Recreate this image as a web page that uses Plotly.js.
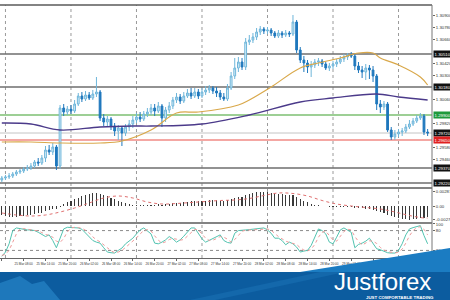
<!DOCTYPE html>
<html><head><meta charset="utf-8">
<script src="https://cdn.plot.ly/plotly-3.0.1.min.js"></script>
<style>html,body{margin:0;padding:0;background:#fff;overflow:hidden}#chart{width:450px;height:300px}</style>
</head><body><div id="chart"></div>
<script>
// ---- price data (H1 candles) ----
const opens = [1.2925,1.2927,1.2928,1.2929,1.2931,1.2933,1.2934,1.2936,1.2937,1.2939,
1.2943,1.2942,1.2947,1.2955,1.2953,1.2958,1.2939,1.2997,1.2993,1.2996,
1.2994,1.3001,1.3009,1.3006,1.3010,1.3007,1.3011,1.3013,1.2987,1.2983,
1.2986,1.2979,1.2974,1.2977,1.2972,1.2978,1.2981,1.2985,1.2988,1.2986,
1.2991,1.2993,1.2997,1.2994,1.2999,1.2987,1.2995,1.2999,1.3005,1.3008,
1.3004,1.3009,1.3012,1.3009,1.3013,1.3009,1.3013,1.3015,1.3017,1.3014,
1.3012,1.3008,1.3006,1.3017,1.3029,1.3037,1.3043,1.3038,1.3063,1.3065,
1.3068,1.3073,1.3076,1.3074,1.3075,1.3072,1.3069,1.3072,1.3070,1.3072,
1.3071,1.3083,1.3055,1.3045,1.3042,1.3038,1.3040,1.3043,1.3044,1.3041,
1.3037,1.3039,1.3041,1.3043,1.3046,1.3048,1.3050,1.3049,1.3039,1.3035,
1.3033,1.3037,1.3035,1.3029,1.3001,1.2998,1.3001,1.2975,1.2968,1.2971,
1.2973,1.2974,1.2978,1.2981,1.2984,1.2987,1.2989,1.2973];
const highs = [1.2929,1.2930,1.2932,1.2933,1.2935,1.2936,1.2938,1.2940,1.2942,1.2945,
1.2947,1.2950,1.2959,1.2960,1.2962,1.2960,1.3000,1.3001,1.2999,1.3000,
1.3005,1.3012,1.3013,1.3014,1.3013,1.3015,1.3028,1.3015,1.2991,1.2989,
1.2988,1.2982,1.2980,1.2979,1.2981,1.2985,1.2989,1.2992,1.2993,1.2994,
1.2997,1.3001,1.3001,1.3003,1.3001,1.2998,1.3003,1.3008,1.3012,1.3011,
1.3013,1.3016,1.3017,1.3017,1.3016,1.3017,1.3019,1.3020,1.3019,1.3018,
1.3015,1.3012,1.3021,1.3033,1.3047,1.3048,1.3047,1.3067,1.3070,1.3072,
1.3077,1.3079,1.3078,1.3078,1.3077,1.3074,1.3075,1.3074,1.3075,1.3074,
1.3090,1.3085,1.3058,1.3049,1.3045,1.3044,1.3046,1.3047,1.3046,1.3043,
1.3042,1.3044,1.3046,1.3049,1.3051,1.3052,1.3053,1.3051,1.3043,1.3039,
1.3041,1.3040,1.3039,1.3031,1.3005,1.3004,1.3003,1.2978,1.2975,1.2976,
1.2977,1.2981,1.2985,1.2987,1.2990,1.2992,1.2991,1.2976];
const lows = [1.2923,1.2925,1.2926,1.2927,1.2929,1.2931,1.2932,1.2934,1.2935,1.2937,
1.2939,1.2940,1.2943,1.2950,1.2950,1.2935,1.2936,1.2989,1.2990,1.2991,
1.2992,1.2999,1.3003,1.3004,1.3005,1.3005,1.3008,1.2984,1.2979,1.2978,
1.2975,1.2969,1.2965,1.2959,1.2969,1.2974,1.2977,1.2982,1.2983,1.2984,
1.2988,1.2990,1.2989,1.2992,1.2978,1.2983,1.2992,1.2996,1.3002,1.3001,
1.3002,1.3007,1.3006,1.3007,1.3006,1.3007,1.3010,1.3012,1.3011,1.3008,
1.3005,1.3004,1.3004,1.3015,1.3026,1.3033,1.3035,1.3035,1.3060,1.3062,
1.3065,1.3070,1.3071,1.3071,1.3069,1.3067,1.3067,1.3067,1.3068,1.3068,
1.3069,1.3052,1.3042,1.3033,1.3032,1.3028,1.3037,1.3039,1.3038,1.3035,
1.3034,1.3036,1.3038,1.3041,1.3043,1.3045,1.3047,1.3035,1.3032,1.3027,
1.3025,1.3026,1.3023,1.2995,1.2992,1.2995,1.2973,1.2965,1.2965,1.2968,
1.2969,1.2972,1.2976,1.2979,1.2982,1.2985,1.2970,1.2969];
const closes = [1.2927,1.2928,1.2929,1.2931,1.2933,1.2934,1.2936,1.2937,1.2939,1.2943,
1.2942,1.2947,1.2955,1.2953,1.2958,1.2939,1.2997,1.2993,1.2996,1.2994,
1.3001,1.3009,1.3006,1.3010,1.3007,1.3011,1.3013,1.2987,1.2983,1.2986,
1.2979,1.2974,1.2977,1.2972,1.2978,1.2981,1.2985,1.2988,1.2986,1.2991,
1.2993,1.2997,1.2994,1.2999,1.2987,1.2995,1.2999,1.3005,1.3008,1.3004,
1.3009,1.3012,1.3009,1.3013,1.3009,1.3013,1.3015,1.3017,1.3014,1.3012,
1.3008,1.3006,1.3017,1.3029,1.3037,1.3043,1.3038,1.3063,1.3065,1.3068,
1.3073,1.3076,1.3074,1.3075,1.3072,1.3069,1.3072,1.3070,1.3072,1.3071,
1.3083,1.3055,1.3045,1.3042,1.3038,1.3040,1.3043,1.3044,1.3041,1.3037,
1.3039,1.3041,1.3043,1.3046,1.3048,1.3050,1.3049,1.3039,1.3035,1.3033,
1.3037,1.3035,1.3029,1.3001,1.2998,1.3001,1.2975,1.2968,1.2971,1.2973,
1.2974,1.2978,1.2981,1.2984,1.2987,1.2989,1.2973,1.2972];

// ---- moving averages (read at sample bars) ----
const emaIdx  = [0, 8, 16, 27, 33, 41, 48, 54, 65, 68, 74, 82, 87, 93, 98, 102, 104, 109, 115, 117];
const emaVals = [1.2963,1.2963,1.2962,1.2962,1.2964,1.2975,1.2992,1.2993,1.3000,1.3005,1.3018,1.3037,1.3042,1.3047,1.3052,1.3052,1.3047,1.3040,1.3028,1.3020];
const smaIdx  = [0, 8, 16, 27, 36, 41, 55, 68, 82, 91, 103, 109, 117];
const smaVals = [1.2982,1.2981,1.2975,1.2978,1.2979,1.2979,1.2981,1.2990,1.3003,1.3007,1.3011,1.3008,1.3005];

// ---- MACD ----
const macdHist = [-0.0018,-0.0020,-0.0022,-0.0022,-0.0022,-0.0020,-0.0020,-0.0018,-0.0018,-0.0016,
-0.0014,-0.0014,-0.0010,-0.0008,-0.0006,-0.0006,-0.0002,0.0004,0.0008,0.0010,
0.0014,0.0016,0.0020,0.0022,0.0024,0.0026,0.0026,0.0024,0.0022,0.0020,
0.0016,0.0014,0.0010,0.0008,0.0006,0.0004,0.0003,0.0002,0.0002,0.0002,
0.0002,0.0003,0.0003,0.0004,0.0003,0.0004,0.0005,0.0006,0.0007,0.0007,
0.0008,0.0009,0.0010,0.0010,0.0010,0.0011,0.0011,0.0012,0.0012,0.0012,
0.0011,0.0011,0.0012,0.0014,0.0016,0.0018,0.0018,0.0022,0.0024,0.0026,
0.0028,0.0028,0.0028,0.0028,0.0027,0.0026,0.0025,0.0024,0.0023,0.0022,
0.0022,0.0018,0.0014,0.0010,0.0008,0.0004,0.0003,0.0002,0.0001,0.0000,
-0.0001,-0.0002,-0.0002,-0.0002,-0.0002,-0.0002,-0.0002,-0.0003,-0.0004,-0.0004,
-0.0005,-0.0006,-0.0007,-0.0010,-0.0012,-0.0014,-0.0018,-0.0020,-0.0022,-0.0024,
-0.0026,-0.0026,-0.0028,-0.0026,-0.0026,-0.0024,-0.0024,-0.0022];
const sigIdx  = [0,4,8,12,16,20,24,28,32,36,40,44,48,52,56,60,64,68,72,76,80,84,88,92,96,100,104,108,112,116,117];
const sigVals = [-0.0014,-0.0018,-0.0020,-0.0018,-0.0012,-0.0004,0.0006,0.0016,0.0020,0.0016,0.0008,0.0004,0.0005,0.0007,0.0009,0.0011,0.0012,0.0015,0.0021,0.0026,0.0025,0.0020,0.0011,0.0004,0.0000,-0.0003,-0.0006,-0.0012,-0.0019,-0.0024,-0.0024];

// ---- Stochastic ----
const stochK = [2,15,40,80,88,86,82,82,82,80,75,68,62,67,50,28,55,85,90,90,
89,88,84,72,62,50,45,42,28,15,13,12,20,27,40,48,57,70,82,88,
80,70,42,40,45,52,62,55,45,52,63,75,88,88,70,55,45,50,57,62,
67,50,44,42,72,80,82,82,83,84,85,86,88,82,72,57,57,50,37,45,
40,30,15,18,20,35,60,85,80,70,45,40,60,82,88,82,75,28,38,42,
48,57,40,25,22,17,13,12,12,20,40,67,85,89,92,95,65,40];
const stochD = [5,8,20,45,70,85,86,84,82,81,79,74,68,66,60,48,44,56,76,88,
90,89,87,81,73,61,52,46,38,28,19,13,15,20,29,38,48,58,70,80,
83,79,64,51,42,46,53,56,54,51,53,63,75,84,82,71,57,50,51,56,
62,60,54,45,53,65,78,81,82,83,84,85,86,85,81,70,62,55,48,44,
41,38,28,21,18,24,38,60,75,78,65,52,48,61,77,84,82,62,47,36,
43,49,48,41,29,21,17,14,12,15,24,42,64,80,89,92,84,67];

// ---- levels and labels ----
const levelPrices = [1.3051, 1.3018, 1.2990, 1.2972, 1.2965, 1.2937, 1.2922];
const levelColors = ['#6e6e6e','#6e6e6e','#7dbf72','#c4c4c4','#f08a84','#6e6e6e','#6e6e6e'];
const boxColors   = ['#111111','#111111','#1e9a3c','#111111','#e02020','#111111','#111111'];
const priceTicks  = [1.3090,1.3078,1.3066,1.3042,1.3030,1.3006,1.2982,1.2958,1.2946];
const macdTicks   = [0.00287, 0, -0.0027];
const macdTickText = ['0.00287','0.00','-0.0027'];
const stochTicks  = [100, 80, 20, 0];
const timeLabels  = ['25 Mar 02:00','25 Mar 08:00','25 Mar 14:00','25 Mar 20:00','26 Mar 02:00','26 Mar 08:00','26 Mar 14:00','26 Mar 20:00','27 Mar 02:00','27 Mar 08:00',
'27 Mar 14:00','27 Mar 20:00','28 Mar 02:00','28 Mar 08:00','28 Mar 14:00','28 Mar 20:00','29 Mar 02:00','29 Mar 08:00','29 Mar 14:00','29 Mar 20:00'];
const labelIdx = [0,6,12,18,24,30,36,42,48,54,60,66,72,78,84,90,96,102,108,114];
const gridIdx  = [1,19,37,55,73,91,109];

const idx = closes.map((_, i) => i);

// ---- geometry helpers (pixel -> paper) ----
const PL=0, PR=432, PT=5, PB=258;
const xp = px => (px-PL)/(PR-PL);
const yp = py => (PB-py)/(PB-PT);
const D1 = yp(188), D2 = yp(223);

const traces = [
  {type:'candlestick', x:idx, open:opens, high:highs, low:lows, close:closes, xaxis:'x', yaxis:'y',
   increasing:{line:{color:'#6fb6da', width:1}, fillcolor:'#dcf0fa'},
   decreasing:{line:{color:'#1f78bd', width:1}, fillcolor:'#1f78bd'},
   whiskerwidth:0, hoverinfo:'skip'},
  {type:'scatter', mode:'lines', x:emaIdx, y:emaVals, yaxis:'y', line:{color:'#d9a84a', width:1.2, shape:'spline'}, hoverinfo:'skip'},
  {type:'scatter', mode:'lines', x:smaIdx, y:smaVals, yaxis:'y', line:{color:'#4b3a8a', width:1.3, shape:'spline'}, hoverinfo:'skip'},
  {type:'bar', x:idx, y:macdHist, yaxis:'y2', marker:{color:'#3a3a3a', line:{width:0}}, width:0.3, hoverinfo:'skip'},
  {type:'scatter', mode:'lines', x:sigIdx, y:sigVals, yaxis:'y2', line:{color:'#e07070', width:1, dash:'dot', shape:'spline'}, hoverinfo:'skip'},
  {type:'scatter', mode:'lines', x:idx, y:stochK, yaxis:'y3', line:{color:'#52c3b0', width:1}, hoverinfo:'skip'},
  {type:'scatter', mode:'lines', x:idx, y:stochD, yaxis:'y3', line:{color:'#ee9a9a', width:1, dash:'dot'}, hoverinfo:'skip'}
];

const shapes = [];
gridIdx.forEach(g => shapes.push({type:'line', xref:'x', yref:'paper', x0:g, x1:g, y0:0, y1:1, layer:'below', line:{color:'#9a9a9a', width:1, dash:'dot'}}));
levelPrices.forEach((p,k) => shapes.push({type:'line', xref:'paper', yref:'y', x0:0, x1:1, y0:p, y1:p, layer:'below', line:{color:levelColors[k], width:(k===3?1:1.6)}}));
[80,20].forEach(v => shapes.push({type:'line', xref:'paper', yref:'y3', x0:0, x1:1, y0:v, y1:v, layer:'below', line:{color:'#8a8a8a', width:1, dash:'dot'}}));
[1, D1, D2].forEach(v => shapes.push({type:'line', xref:'paper', yref:'paper', x0:0, x1:1, y0:v, y1:v, line:{color:'#5a5a5a', width:1.5}}));
shapes.push({type:'line', xref:'paper', yref:'paper', x0:1, x1:1, y0:0, y1:1, line:{color:'#777', width:1}});
// banner
const P = (x,y) => xp(x).toFixed(4)+','+yp(y).toFixed(4);
shapes.push({type:'rect', xref:'paper', yref:'paper', x0:xp(0), x1:xp(450), y0:yp(300), y1:yp(272), line:{width:0}, fillcolor:'#0c5c9f'});
shapes.push({type:'path', xref:'paper', yref:'paper', path:'M '+P(300,272)+' L '+P(450,248)+' L '+P(450,272)+' Z', line:{width:0}, fillcolor:'#1b7cc2'});
shapes.push({type:'path', xref:'paper', yref:'paper', path:'M '+P(0,300)+' L '+P(0,283)+' L '+P(20,276)+' L '+P(32,284)+' L '+P(44,281)+' L '+P(60,300)+' Z', line:{width:0}, fillcolor:'#1e78bb'});
shapes.push({type:'path', xref:'paper', yref:'paper', path:'M '+P(190,300)+' L '+P(320,272)+' L '+P(345,272)+' L '+P(215,300)+' Z', line:{width:0}, fillcolor:'#1468ab'});

const annotations = [];
levelPrices.forEach((p,k) => annotations.push({xref:'paper', yref:'y', x:1, y:p, xanchor:'left', yanchor:'middle', xshift:1, showarrow:false,
  text:p.toFixed(5), font:{size:4.3, color:'#fff', family:'Liberation Sans, Arial'}, bgcolor:boxColors[k], borderpad:0.6}));
annotations.push({xref:'paper', yref:'paper', x:xp(382), y:yp(281.5), xanchor:'center', yanchor:'middle', showarrow:false, borderpad:0,
  text:'Justforex', font:{size:24, color:'#ffffff', family:'Liberation Sans, Arial, sans-serif'}});
annotations.push({xref:'paper', yref:'paper', x:xp(400), y:yp(297.4), xanchor:'center', yanchor:'middle', showarrow:false, borderpad:0,
  text:'<b>JUST COMFORTABLE TRADING</b>', font:{size:4.4, color:'#ffffff', family:'Liberation Sans, Arial'}});

const axFont = {size:4.3, color:'#333', family:'Liberation Sans, Arial'};
const layout = {
  width:450, height:300, margin:{l:0, r:18, t:5, b:42}, showlegend:false,
  paper_bgcolor:'#fff', plot_bgcolor:'#fff', bargap:0,
  xaxis:{range:[-0.5,118.2], tickvals:labelIdx, ticktext:timeLabels, tickfont:{size:3.1, color:'#333', family:'Liberation Sans, Arial'},
    ticks:'outside', ticklen:2, tickcolor:'#666', showgrid:false, zeroline:false, showline:true, linecolor:'#666', linewidth:1,
    anchor:'y3', rangeslider:{visible:false}, fixedrange:true, tickangle:0},
  yaxis:{domain:[D1,1], range:[1.2917,1.3100], side:'right', anchor:'x', tickvals:priceTicks, ticktext:priceTicks.map(v=>v.toFixed(5)),
    tickfont:axFont, ticks:'outside', ticklen:2, tickcolor:'#666', showgrid:false, zeroline:false, fixedrange:true},
  yaxis2:{domain:[D2,D1], range:[-0.0034,0.0036], side:'right', anchor:'x', tickvals:macdTicks, ticktext:macdTickText,
    tickfont:axFont, ticks:'outside', ticklen:2, tickcolor:'#666', showgrid:false, zeroline:false, fixedrange:true},
  yaxis3:{domain:[0,D2], range:[-3,103], side:'right', anchor:'x', tickvals:stochTicks, ticktext:stochTicks.map(String),
    tickfont:axFont, ticks:'outside', ticklen:2, tickcolor:'#666', showgrid:false, zeroline:false, fixedrange:true},
  shapes:shapes, annotations:annotations
};
Plotly.newPlot('chart', traces, layout, {displayModeBar:false, staticPlot:true});
</script></body></html>
